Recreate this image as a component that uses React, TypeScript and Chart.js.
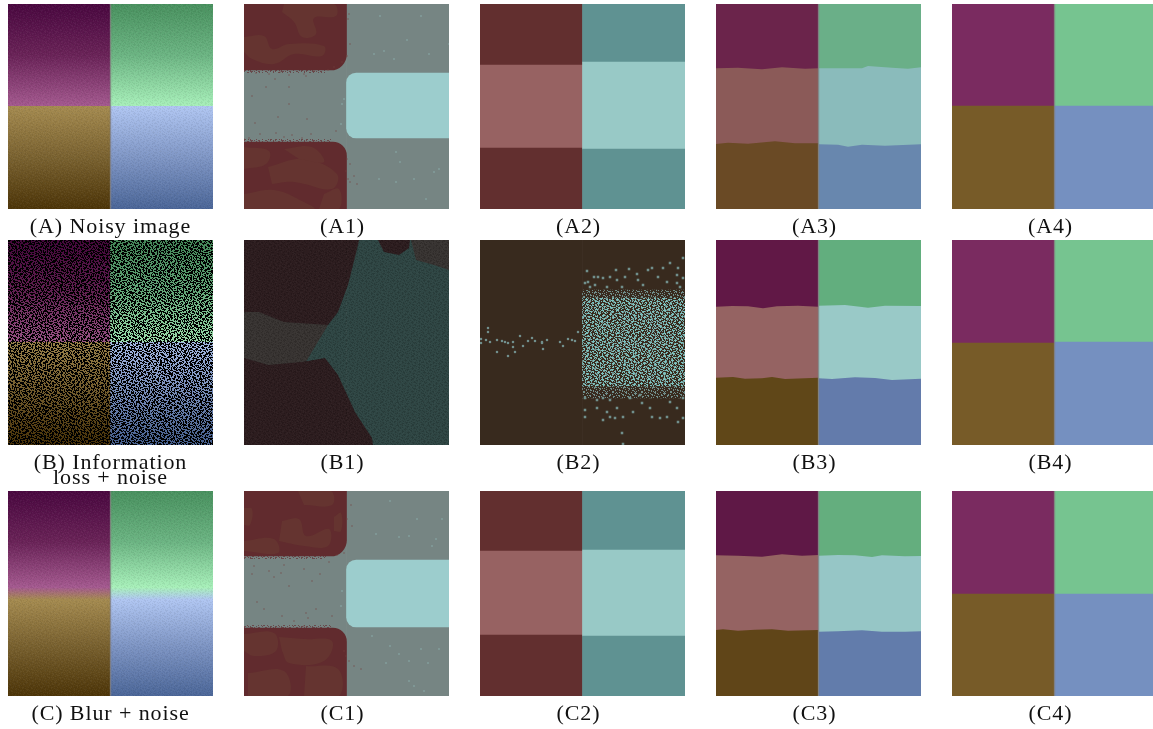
import { useEffect, useRef } from 'react';
import { Chart, registerables } from 'chart.js';
Chart.register(...registerables);

const SIDE = 205;
const COLUMN_LEFTS = [8, 244, 480, 716, 952];
const ROW_TOPS = [4, 240, 491];
const COLUMN_LABELS = ['left', 'right'];

const CAPTIONS_A = [['(A) Noisy image'], ['(A1)'], ['(A2)'], ['(A3)'], ['(A4)']];
const CAPTIONS_B = [['(B) Information', 'loss + noise'], ['(B1)'], ['(B2)'], ['(B3)'], ['(B4)']];
const CAPTIONS_C = [['(C) Blur + noise'], ['(C1)'], ['(C2)'], ['(C3)'], ['(C4)']];

// Gradient colours of the source images
const A_OFFSETS = [0, 0.25, 0.5, 0.5, 0.75, 1];
const C_OFFSETS = [0, 0.25, 0.47, 0.53, 0.75, 1];
const LEFT_COLORS = ['#4a0840', '#6a2358', '#a55a90', '#a58b50', '#7a6230', '#4d3508'];
const RIGHT_COLORS = ['#49915f', '#6cb583', '#a8f0ba', '#b0c6f2', '#7f96c5', '#4b6698'];

// Three-band flat panels: band cuts (rows) and band colours
const A2_LEFT_CUTS = [61, 144];
const A2_RIGHT_CUTS = [58, 145];
const C2_LEFT_CUTS = [60, 144];
const C2_RIGHT_CUTS = [59, 145];
const MEAN_LEFT = ['#622f2f', '#976262', '#622f2f'];
const MEAN_RIGHT = ['#5f9292', '#98c9c6', '#5f9292'];

const A3_LEFT = ['#6b244b', '#8b5a58', '#6a4a25'];
const A3_RIGHT = ['#6aaf88', '#8abbbb', '#6887ae'];
const B3_LEFT = ['#611846', '#956362', '#604718'];
const B3_RIGHT = ['#62ae7e', '#99c9c7', '#637bab'];
const C3_LEFT = ['#5f1846', '#956362', '#604518'];
const C3_RIGHT = ['#64ae7e', '#96c6c6', '#627cab'];

// Wavy band edges of the third column: x, y per edge
const A3_LT_X = [0, 22, 46, 66, 89, 102.5];
const A3_LT_Y = [64.3, 63.7, 65.3, 63.3, 64.7, 64.3];
const A3_LB_X = [0, 12, 32, 59, 79, 102.5];
const A3_LB_Y = [140, 138.7, 139.7, 137.3, 139.3, 139.3];
const A3_RT_X = [102.5, 129, 146, 152, 176, 192, 205];
const A3_RT_Y = [64.3, 64.3, 64.3, 62, 63.7, 64.7, 63.3];
const A3_RB_X = [102.5, 122, 132, 146, 169, 205];
const A3_RB_Y = [140.3, 140.7, 142.7, 140.7, 141.7, 140.3];
const B3_LT_X = [0, 16, 32, 47, 61, 82, 102.5];
const B3_LT_Y = [66.7, 66, 66.3, 68.3, 66.3, 65.7, 66.7];
const B3_LB_X = [0, 17, 29, 46, 56, 69, 102.5];
const B3_LB_Y = [137.7, 137, 138.7, 138.3, 137, 139, 137.7];
const B3_RT_X = [102.5, 129, 146, 152, 169, 205];
const B3_RT_Y = [65.7, 65, 67, 67.7, 65.7, 66];
const B3_RB_X = [102.5, 116, 139, 159, 176, 205];
const B3_RB_Y = [138.3, 139, 137.3, 138, 140, 138.7];
const C3_LT_X = [0, 22, 46, 66, 86, 102.5];
const C3_LT_Y = [64.3, 64.7, 65.7, 63.3, 64.7, 64];
const C3_LB_X = [0, 7, 22, 39, 56, 72, 102.5];
const C3_LB_Y = [139, 138.3, 139.7, 138.7, 138.3, 139.7, 139];
const C3_RT_X = [102.5, 122, 139, 156, 166, 189, 205];
const C3_RT_Y = [64.7, 64, 64.3, 66, 64.3, 65.3, 65];
const C3_RB_X = [102.5, 122, 146, 166, 189, 205];
const C3_RB_Y = [140.7, 140.3, 139.3, 140.7, 140.7, 140.3];

// Two-band flat panels
const A4_CUTS = [102, 102];
const B4_CUTS = [103, 102];
const C4_CUTS = [103, 103];
const FOUR_LEFT = ['#7a2b60', '#775b28'];
const FOUR_RIGHT = ['#76c490', '#7590c0'];
const SEAM_X = [102.5, 102.5];
const SEAM_Y = [0, 205];

// Panels A1 / C1
const RED = '#612b2e';
const BROWN = '#653430';
const SPECK_RED = '#74403f';
const GREY = '#768583';
const TEAL = '#9ccdcd';
const A1_RED_TOP = 66;
const A1_RED_BOTTOM = 138;
const A1_TEAL = [69, 134];
const C1_RED_TOP = 65;
const C1_RED_BOTTOM = 137;
const C1_TEAL = [69, 136];
const A1_BLOTCH_XS = [
  [40, 90, 92, 70, 72, 58, 50, 38],
  [0, 20, 28, 45, 80, 78, 50, 30, 8, 0],
  [24, 60, 93, 88, 50, 28],
  [0, 25, 22, 0],
  [40, 68, 80, 55],
  [0, 30, 60, 70, 0],
  [80, 95, 95, 75],
];
const A1_BLOTCH_YS = [
  [0, 0, 12, 14, 30, 33, 18, 8],
  [33, 32, 45, 40, 42, 52, 50, 60, 55, 48],
  [163, 155, 170, 185, 178, 180],
  [143, 147, 160, 165],
  [145, 143, 158, 155],
  [190, 186, 198, 205, 205],
  [190, 185, 205, 205],
];
const C1_BLOTCH_XS = [
  [54, 87, 88, 60],
  [0, 8, 6, 0],
  [38, 55, 62, 85, 84, 60, 35],
  [0, 30, 34, 0],
  [90, 97, 97, 90],
  [0, 30, 32, 10, 0],
  [35, 60, 88, 80, 45, 38],
  [4, 40, 44, 4],
  [62, 94, 95, 60],
];
const C1_BLOTCH_YS = [
  [0, 0, 14, 14],
  [17, 18, 34, 34],
  [30, 28, 45, 38, 55, 55, 50],
  [50, 48, 62, 60],
  [26, 22, 40, 40],
  [143, 142, 160, 165, 160],
  [146, 148, 150, 170, 172, 160],
  [182, 180, 205, 205],
  [175, 178, 205, 205],
];
const FUZZ_TOP_X = [0, 82];
const FUZZ_BOTTOM_X = [0, 88];
const A1_RED_X = [12, 25, 36, 45, 60, 62, 70, 84, 90, 98, 103, 106, 104, 105, 31, 45, 22, 8, 45, 63, 11, 34, 16, 32, 40, 48, 58, 0, 5, 67, 92, 103, 106, 102, 104, 113, 110, 106];
const A1_RED_Y = [69, 70, 68, 71, 70, 72, 67, 66, 63, 58, 52, 40, 15, 10, 75, 83, 83, 92, 100, 115, 119, 113, 130, 129, 133, 131, 134, 135, 134, 130, 127, 155, 160, 167, 175, 180, 172, 178];
const A1_PALE_X = [136, 163, 130, 140, 150, 185, 205, 177, 152, 156, 170, 190, 152, 195, 182, 135, 100, 98, 97];
const A1_PALE_Y = [12, 36, 50, 47, 55, 50, 40, 12, 148, 158, 175, 168, 178, 165, 195, 175, 95, 100, 120];
const C1_RED_X = [10, 25, 40, 60, 85, 93, 100, 107, 108, 103, 8, 30, 37, 45, 68, 76, 13, 20, 38, 62, 60, 72, 50, 64, 88, 100, 102, 105, 110, 117];
const C1_RED_Y = [75, 80, 74, 78, 71, 64, 62, 14, 35, 28, 83, 86, 82, 95, 90, 83, 111, 118, 125, 122, 135, 118, 130, 127, 125, 160, 165, 170, 175, 178];
const C1_PALE_X = [146, 173, 132, 165, 155, 198, 188, 192, 128, 146, 155, 165, 177, 184, 195, 142, 170, 180, 165, 98, 97];
const C1_PALE_Y = [10, 28, 43, 45, 46, 28, 55, 48, 145, 155, 163, 170, 158, 172, 158, 172, 195, 200, 190, 100, 115];

// Panel B1 outlines
const B1_TEAL = '#2f4644';
const B1_DARK = '#2d1d1f';
const B1_GREY = '#383432';
const B1_TOP_X = [0, 15, 40, 84, 94, 104, 114, 115];
const B1_TOP_Y = [72, 72, 82, 85, 72, 45, 5, 0];
const B1_BOTTOM_X = [0, 24, 58, 81, 94, 111, 128, 129];
const B1_BOTTOM_Y = [118, 125, 122, 118, 135, 172, 198, 205];
const B1_MIDDLE_X = [0, 60, 72, 84, 85];
const B1_MIDDLE_Y = [125, 125, 105, 85, 0];
const B1_BLOB1_X = [134, 140, 155, 165, 166];
const B1_BLOB1_Y = [0, 12, 15, 8, 0];
const B1_BLOB2_X = [167, 172, 190, 205];
const B1_BLOB2_Y = [0, 20, 25, 30];

// Panel B2 specks
const B2_BASE = '#382a1e';
const B2_BRIGHT = '#7cc2bf';
const B2_DULL = '#718f8c';
const B2_BRIGHT_ROWS = [58, 146];
const B2_DULL_ROWS = [50, 158];
const B2_LEFT_X = [8, 8, 1, 1, 6, 10, 17, 22, 25, 28, 33, 33, 17, 28, 35, 40, 43, 48, 52, 55, 62, 67, 63, 80, 83, 88, 92, 95, 98, 62];
const B2_LEFT_Y = [88, 92, 99, 103, 100, 102, 100, 101, 102, 103, 102, 107, 112, 116, 112, 96, 106, 101, 98, 101, 102, 100, 109, 102, 106, 99, 100, 101, 92, 103];
const B2_UP_X = [107, 108, 114, 118, 123, 105, 110, 115, 130, 136, 137, 145, 149, 157, 158, 168, 172, 178, 183, 190, 198, 197, 203, 203, 127, 142, 163, 187, 197, 200];
const B2_UP_Y = [31, 42, 37, 37, 38, 43, 47, 45, 37, 30, 40, 37, 29, 34, 40, 30, 28, 37, 28, 23, 28, 35, 18, 38, 47, 47, 45, 42, 43, 47];
const B2_DOWN_X = [105, 105, 105, 117, 117, 123, 130, 127, 130, 123, 135, 143, 142, 143, 150, 153, 162, 170, 172, 180, 190, 197, 203, 198, 203, 187, 160, 137];
const B2_DOWN_Y = [158, 170, 177, 160, 168, 158, 160, 172, 177, 180, 178, 177, 193, 204, 158, 172, 163, 168, 177, 178, 162, 168, 158, 182, 178, 177, 155, 168];

// Hand-written speckle tiles, used only as a fill texture
const TILE_A = [
  '##....#..###.....#...##..#....#',
  '.#...###...#..#.....###.....#..',
  '....#..#.......###..#....##...#',
  '#.#.....##.#....#......#..#..#.',
  '..###....#....#.....#.###......',
  '...#...#.....###..#......#..##.',
  '.#....###..#..#....##.......#..',
  '##..#..#...##....#..#..##.#...#',
  '....##.....#..#.###.....#...#..',
  '#.....#.##.......#...#.....###.',
  '.##.#...#...###.......###...#..',
  '..#...#....#.#...#.#...#.#....#',
  '#...###.#.......##...#.....##..',
  '.#...#....##.#......###..#..#..',
  '...#....#..#...###...#.....#..#',
  '##...#.###....#.#......##.....#',
  '..#.......#.#.....##..#.#..##..',
  '.###..#.....##.#...#......#.#..',
  '..#..###.#...#....#..###......#',
  '#.....#....#....##....#..#.##..',
  '.#.##...##..#.#.....#.....#....',
  '...#..#.#.....###.#...##.....##',
  '#.....#....##..#....#..#..#....',
];
const TILE_B = [
  '..#.....##....#...#.....##..#',
  '#...#....#.#.....###.......#.',
  '.....##.....#..#..#...#.#....',
  '.##...#.#......##....##.....#',
  '..#.......##.#.......#...##..',
  '#....#.#...#.....#.#.....#...',
  '...###.....#..##....#..#...#.',
  '....#...#.....#..#.....##....',
  '.#.....##.#.......###.....#.#',
  '#..#....#...##.#...#.#.......',
  '...##.......#.....#.....##.#.',
  '.#....#.#.#....##.....#.#....',
  '....#.....#.#...#..#.......##',
  '##.....#.......#....###.#....',
  '.#..#.###.#.......#.........#',
  '......#....##.#.#.....##.#...',
  '#.#.....#...#.....#....#...#.',
  '..##.#.....#...##....#.....#.',
  '.....#.#.#.......#.#....##...',
];

const BAND_FRAME = { grouped: false, barPercentage: 1, categoryPercentage: 1, borderSkipped: false, xAxisID: 'x', yAxisID: 'y' };

const bar = (column: number, from: number, to: number, fill: any, borderRadius: any = 0) => ({
  ...BAND_FRAME,
  type: 'bar',
  data: column === 0 ? [[from, to], null] : [null, [from, to]],
  backgroundColor: fill,
  borderRadius,
});
const specks = (xs: number[], ys: number[], color: string, pointRadius: any = 1) => ({
  type: 'scatter',
  xAxisID: 'px',
  yAxisID: 'y',
  data: xs.map((x, i) => ({ x, y: ys[i] })),
  pointStyle: 'rect',
  pointRadius,
  pointBackgroundColor: color,
  pointBorderWidth: 0,
});
const region = (xs: number[], ys: number[], color: any, edge: number | string) => ({
  type: 'scatter',
  xAxisID: 'px',
  yAxisID: 'y',
  showLine: true,
  tension: edge === 'shape' ? 0.4 : 0,
  data: xs.map((x, i) => ({ x, y: ys[i] })),
  pointRadius: 0,
  borderWidth: 0,
  borderColor: 'transparent',
  backgroundColor: color,
  fill: typeof edge === 'number' ? { value: edge } : edge,
});
const seam = () => ({
  type: 'scatter',
  xAxisID: 'px',
  yAxisID: 'y',
  showLine: true,
  data: SEAM_X.map((x, i) => ({ x, y: SEAM_Y[i] })),
  pointRadius: 0,
  borderWidth: 1.4,
  borderColor: 'rgba(128,124,124,0.75)',
});

function tilePattern(ctx: CanvasRenderingContext2D, rows: string[], color: string) {
  const tile = document.createElement('canvas');
  tile.width = rows[0].length;
  tile.height = rows.length;
  const t = tile.getContext('2d')!;
  t.fillStyle = color;
  rows.forEach((row, y) => {
    [...row].forEach((c, x) => {
      if (c === '#') t.fillRect(x, y, 1, 1);
    });
  });
  return ctx.createPattern(tile, 'repeat');
}
function gradient(ctx: CanvasRenderingContext2D, offsets: number[], colors: string[]) {
  const g = ctx.createLinearGradient(0, 0, 0, SIDE);
  offsets.forEach((o, i) => g.addColorStop(o, colors[i]));
  return g;
}

function flatBands(leftCuts: number[], rightCuts: number[], left: string[], right: string[]) {
  const out: any[] = [];
  const columns: [number, number[], string[]][] = [[0, leftCuts, left], [1, rightCuts, right]];
  columns.forEach(([col, cuts, colors]) => {
    const edges = [0, ...cuts, SIDE];
    colors.forEach((c, i) => out.push(bar(col, edges[i], edges[i + 1], c)));
  });
  return out;
}
function wavyBands(left: string[], right: string[], edges: number[][]) {
  const [ltx, lty, lbx, lby, rtx, rty, rbx, rby] = edges;
  return [
    bar(0, 0, SIDE, left[1]),
    bar(1, 0, SIDE, right[1]),
    region(ltx, lty, left[0], 0),
    region(lbx, lby, left[2], SIDE),
    region(rtx, rty, right[0], 0),
    region(rbx, rby, right[2], SIDE),
    seam(),
  ];
}
function gradientPanel(ctx: CanvasRenderingContext2D, offsets: number[]) {
  return [
    bar(0, 0, SIDE, gradient(ctx, offsets, LEFT_COLORS)),
    bar(1, 0, SIDE, gradient(ctx, offsets, RIGHT_COLORS)),
    bar(0, 0, SIDE, tilePattern(ctx, TILE_A, 'rgba(0,0,0,0.05)')),
    bar(1, 0, SIDE, tilePattern(ctx, TILE_A, 'rgba(0,0,0,0.05)')),
    bar(0, 0, SIDE, tilePattern(ctx, TILE_B, 'rgba(255,255,255,0.04)')),
    bar(1, 0, SIDE, tilePattern(ctx, TILE_B, 'rgba(255,255,255,0.04)')),
    seam(),
  ];
}
function segmentPanel(
  ctx: CanvasRenderingContext2D, redTop: number, redBottom: number, teal: number[],
  bxs: number[][], bys: number[][], rx: number[], ry: number[], px: number[], py: number[],
) {
  const fuzz = tilePattern(ctx, TILE_A, 'rgba(97,43,46,0.65)');
  return [
    bar(0, 0, SIDE, GREY),
    bar(1, 0, SIDE, GREY),
    region(FUZZ_TOP_X, [redTop + 3, redTop + 3], fuzz, redTop),
    region(FUZZ_BOTTOM_X, [redBottom - 3, redBottom - 3], fuzz, redBottom),
    bar(0, 0, redTop, RED, { bottomRight: 16 }),
    bar(0, redBottom, SIDE, RED, { topRight: 14 }),
    ...bxs.map((xs, i) => region(xs, bys[i], BROWN, 'shape')),
    bar(1, teal[0], teal[1], TEAL, { topLeft: 10, bottomLeft: 10 }),
    specks(rx, ry, SPECK_RED, 0.8),
    specks(px, py, TEAL, 0.7),
  ];
}

const PANELS: ((ctx: CanvasRenderingContext2D) => any[])[][] = [
  [
    (ctx) => gradientPanel(ctx, A_OFFSETS),
    (ctx) => segmentPanel(ctx, A1_RED_TOP, A1_RED_BOTTOM, A1_TEAL, A1_BLOTCH_XS, A1_BLOTCH_YS, A1_RED_X, A1_RED_Y, A1_PALE_X, A1_PALE_Y),
    () => flatBands(A2_LEFT_CUTS, A2_RIGHT_CUTS, MEAN_LEFT, MEAN_RIGHT),
    () => wavyBands(A3_LEFT, A3_RIGHT, [A3_LT_X, A3_LT_Y, A3_LB_X, A3_LB_Y, A3_RT_X, A3_RT_Y, A3_RB_X, A3_RB_Y]),
    () => [...flatBands([A4_CUTS[0]], [A4_CUTS[1]], FOUR_LEFT, FOUR_RIGHT), seam()],
  ],
  [
    (ctx) => [
      bar(0, 0, SIDE, gradient(ctx, A_OFFSETS, LEFT_COLORS)),
      bar(1, 0, SIDE, gradient(ctx, A_OFFSETS, RIGHT_COLORS)),
      bar(0, 0, SIDE, 'rgba(0,0,0,0.08)'),
      bar(1, 0, SIDE, 'rgba(0,0,0,0.08)'),
      bar(0, 0, SIDE, tilePattern(ctx, TILE_A, '#000')),
      bar(1, 0, SIDE, tilePattern(ctx, TILE_A, '#000')),
      bar(0, 0, SIDE, tilePattern(ctx, TILE_B, '#000')),
      bar(1, 0, SIDE, tilePattern(ctx, TILE_B, '#000')),
    ],
    (ctx) => [
      bar(0, 0, SIDE, B1_TEAL),
      bar(1, 0, SIDE, B1_TEAL),
      region(B1_MIDDLE_X, B1_MIDDLE_Y, B1_GREY, 0),
      region(B1_TOP_X, B1_TOP_Y, B1_DARK, 0),
      region(B1_BOTTOM_X, B1_BOTTOM_Y, B1_DARK, SIDE),
      region(B1_BLOB1_X, B1_BLOB1_Y, B1_DARK, 0),
      region(B1_BLOB2_X, B1_BLOB2_Y, B1_GREY, 0),
      bar(0, 0, SIDE, tilePattern(ctx, TILE_A, 'rgba(0,0,0,0.14)')),
      bar(1, 0, SIDE, tilePattern(ctx, TILE_A, 'rgba(0,0,0,0.14)')),
      bar(0, 0, SIDE, tilePattern(ctx, TILE_B, 'rgba(255,255,255,0.025)')),
      bar(1, 0, SIDE, tilePattern(ctx, TILE_B, 'rgba(255,255,255,0.025)')),
    ],
    (ctx) => [
      bar(0, 0, SIDE, B2_BASE),
      bar(1, 0, SIDE, B2_BASE),
      bar(1, B2_DULL_ROWS[0], B2_DULL_ROWS[1], tilePattern(ctx, TILE_B, B2_DULL)),
      bar(1, B2_BRIGHT_ROWS[0], B2_BRIGHT_ROWS[1], tilePattern(ctx, TILE_A, B2_BRIGHT)),
      specks(B2_LEFT_X, B2_LEFT_Y, B2_DULL, 1.6),
      specks(B2_UP_X, B2_UP_Y, B2_DULL, 1.8),
      specks(B2_DOWN_X, B2_DOWN_Y, B2_DULL, 1.8),
    ],
    () => wavyBands(B3_LEFT, B3_RIGHT, [B3_LT_X, B3_LT_Y, B3_LB_X, B3_LB_Y, B3_RT_X, B3_RT_Y, B3_RB_X, B3_RB_Y]),
    () => [...flatBands([B4_CUTS[0]], [B4_CUTS[1]], FOUR_LEFT, FOUR_RIGHT), seam()],
  ],
  [
    (ctx) => gradientPanel(ctx, C_OFFSETS),
    (ctx) => segmentPanel(ctx, C1_RED_TOP, C1_RED_BOTTOM, C1_TEAL, C1_BLOTCH_XS, C1_BLOTCH_YS, C1_RED_X, C1_RED_Y, C1_PALE_X, C1_PALE_Y),
    () => flatBands(C2_LEFT_CUTS, C2_RIGHT_CUTS, MEAN_LEFT, MEAN_RIGHT),
    () => wavyBands(C3_LEFT, C3_RIGHT, [C3_LT_X, C3_LT_Y, C3_LB_X, C3_LB_Y, C3_RT_X, C3_RT_Y, C3_RB_X, C3_RB_Y]),
    () => [...flatBands([C4_CUTS[0]], [C4_CUTS[1]], FOUR_LEFT, FOUR_RIGHT), seam()],
  ],
];
const CAPTIONS = [CAPTIONS_A, CAPTIONS_B, CAPTIONS_C];

function Panel({ row, col }: { row: number; col: number }) {
  const ref = useRef<HTMLCanvasElement>(null);
  const gap = col === 0 ? 0 : 8;
  const caption = CAPTIONS[row][col];
  const twoLines = caption.length > 1;
  const lineHeight = twoLines ? 15 : 24;
  const padTop = twoLines ? 11 : 6;
  const height = SIDE + padTop + lineHeight * caption.length;
  const width = SIDE + gap;
  useEffect(() => {
    const canvas = ref.current!;
    const ctx = canvas.getContext('2d')!;
    const raw = PANELS[row][col](ctx);
    // dataset 0 is painted last, so the layers are given back-to-front orders
    const datasets = raw.map((d, i) => ({ ...d, order: raw.length - i }));
    const chart = new Chart(canvas, {
      type: 'bar',
      data: { labels: COLUMN_LABELS, datasets },
      options: {
        animation: false,
        responsive: false,
        devicePixelRatio: 1,
        events: [],
        layout: { padding: 0, autoPadding: false },
        plugins: {
          legend: { display: false },
          tooltip: { enabled: false },
          title: {
            display: true,
            position: 'bottom',
            text: caption,
            color: '#111',
            font: { family: '"Liberation Serif"', size: 22, weight: 'normal', lineHeight: `${lineHeight}px` },
            padding: { top: padTop, bottom: 0 },
          },
        },
        scales: {
          x: { type: 'category', display: false },
          px: { type: 'linear', axis: 'x', display: false, offset: false, min: 0, max: SIDE },
          y: {
            type: 'linear',
            reverse: true,
            min: 0,
            max: SIDE,
            ticks: { display: false },
            grid: { display: false },
            border: { display: false },
            afterFit: (s: any) => { s.width = gap; },
          },
        },
      },
      plugins: [{
        id: 'captionSpacing',
        beforeDraw: (c: any) => { c.ctx.letterSpacing = '0.9px'; },
      }],
    } as any);
    return () => chart.destroy();
  }, []);
  return (
    <canvas
      ref={ref}
      width={width}
      height={height}
      style={{ position: 'absolute', left: COLUMN_LEFTS[col] - gap, top: ROW_TOPS[row], width, height, display: 'block' }}
    />
  );
}

export default function App() {
  return (
    <div style={{ position: 'fixed', inset: 0, overflow: 'hidden', background: '#fff' }}>
      {ROW_TOPS.map((_, row) =>
        COLUMN_LEFTS.map((_, col) => <Panel key={`${row}-${col}`} row={row} col={col} />),
      )}
    </div>
  );
}
